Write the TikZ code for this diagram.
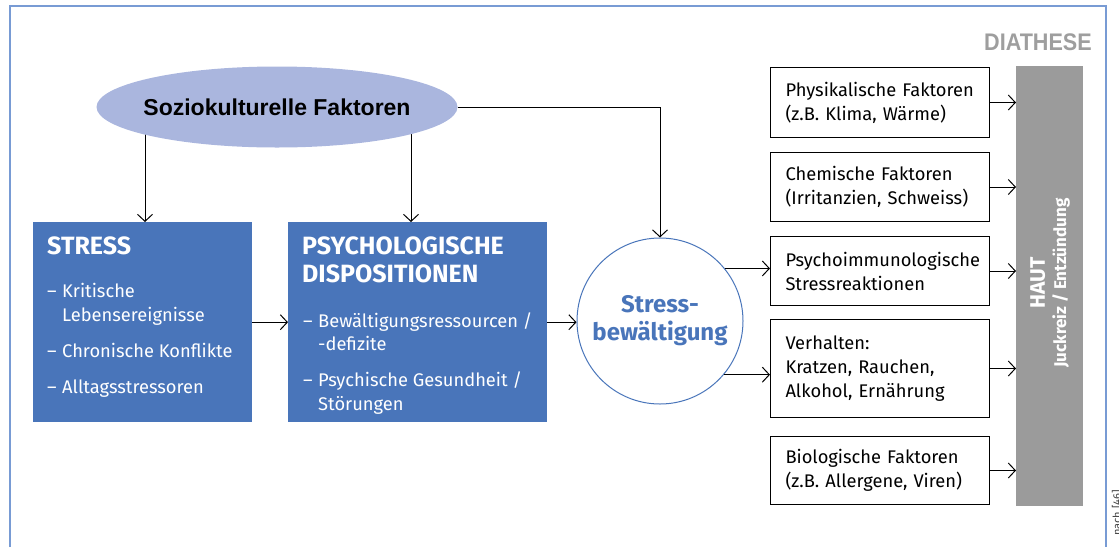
\documentclass[tikz,border=0pt]{standalone}
\usepackage{fontspec}
\setmainfont{Fira Sans}
\newfontfamily\narrowfont[FakeStretch=0.9]{Liberation Sans}
\newfontfamily\arialfont{Liberation Sans}
\usetikzlibrary{arrows.meta,shapes.geometric,backgrounds}
\definecolor{boxblue}{RGB}{73,117,186}
\definecolor{ellfill}{RGB}{170,182,222}
\definecolor{framecol}{RGB}{120,155,212}
\definecolor{hautgray}{RGB}{155,155,155}
\definecolor{diagray}{RGB}{158,158,158}
\begin{document}
\begin{tikzpicture}[x=1pt,y=-1pt,
  arr/.style={-{Straight Barb[length=7pt,width=15pt]}, line width=1pt},
  bluebox/.style={fill=boxblue, minimum width=#1, minimum height=200, inner sep=0, anchor=north west},
  whitebox/.style={draw=black, line width=1pt, fill=white, minimum width=219, text width=189,
     inner xsep=15, inner ysep=0, anchor=north west, align=left,
     font=\fontsize{18.3}{24}\selectfont},
  htitle/.style={anchor=base west, inner sep=0, text=white, font=\bfseries\fontsize{25}{30}\selectfont},
  item/.style={anchor=base west, inner sep=0, text=white, font=\fontsize{18.3}{24}\selectfont},
]
\useasboundingbox (0,0) rectangle (1119,547);
% frame
\draw[framecol, line width=1.5] (10,547) -- (10,6) -- (1106,6) -- (1106,547);
\node[anchor=base east, inner sep=0, text=diagray, font=\narrowfont\bfseries\fontsize{24}{26}\selectfont] (dia) at (1092,50) {DIATHESE};

% ellipse
\node[ellipse, fill=ellfill, minimum width=361, minimum height=81, inner sep=0] (ell) at (277,107) {};
\node[inner sep=0, font=\arialfont\bfseries\fontsize{23}{26}\selectfont] (elltext) at (ell.center) {Soziokulturelle Faktoren};

% blue boxes
\node[bluebox=219] (stress) at (33,222) {};
\node[bluebox=259] (psych) at (288,222) {};

\node[htitle] (t1) at (47,254) {STRESS};
\node[item] (s1d) at (47,297) {–};
\node[item] (s1) at (62,297) {Kritische};
\node[item] (s1b) at (62,321) {Lebensereignisse};
\node[item] (s2d) at (47,357) {–};
\node[item] (s2) at (62,357) {Chronische Konflikte};
\node[item] (s3d) at (47,393) {–};
\node[item] (s3) at (62,393) {Alltagsstressoren};

\node[htitle] (t2) at (302,254) {PSYCHOLOGISCHE};
\node[htitle] (t2b) at (302,282) {DISPOSITIONEN};
\node[item] (p1d) at (303,327) {–};
\node[item] (p1) at (318,327) {Bewältigungsressourcen /};
\node[item] (p1b) at (318,350) {-defizite};
\node[item] (p2d) at (303,386) {–};
\node[item] (p2) at (318,386) {Psychische Gesundheit /};
\node[item] (p2b) at (318,410) {Störungen};

% circle
\node[circle, draw=boxblue, line width=1pt, minimum size=166, inner sep=0, align=center,
  text=boxblue, font=\bfseries\fontsize{24}{28}\selectfont] (circ) at (660,321) {Stress-\\bewältigung};

% right boxes
\node[whitebox, minimum height=70] (f1) at (770,67) {Physikalische Faktoren\\(z.B. Klima, Wärme)};
\node[whitebox, minimum height=69] (f2) at (770,152) {Chemische Faktoren\\(Irritanzien, Schweiss)};
\node[whitebox, minimum height=69] (f3) at (770,236) {Psychoimmunologische\\Stressreaktionen};
\node[whitebox, minimum height=98] (f4) at (770,319) {Verhalten:\\Kratzen, Rauchen,\\Alkohol, Ernährung};
\node[whitebox, minimum height=68] (f5) at (770,436) {Biologische Faktoren\\(z.B. Allergene, Viren)};

% HAUT
\node[fill=hautgray, minimum width=67, minimum height=440, inner sep=0, anchor=north west] (haut) at (1016,66) {};
\node[rotate=90, text=white, align=center, inner sep=0] (hauttext) at (1050,283)
  {{\bfseries\fontsize{21}{24}\selectfont HAUT}\\[6pt]{\bfseries\fontsize{17}{18}\selectfont Juckreiz / Entzündung}};

% cut-off source text
\node[rotate=90, anchor=east, inner sep=0, text=black!75, font=\fontsize{11}{13}\selectfont] (src) at (1117,490) {nach [46]};

% connectors
\coordinate (a1) at (145,222);
\coordinate (a2) at (411,222);
\begin{scope}[on background layer]
\draw[arr] (ell.center -| a1) -- (a1);
\draw[arr] (ell.center -| a2) -- (a2);
\end{scope}
\draw[arr] (ell.east) -| (circ.north);
\draw[arr] (stress.east) -- (psych.west);
\draw[arr] (psych.east) -- (psych.east -| circ.west);
\draw[arr] (circ.39) -- (circ.39 -| f3.west);
\draw[arr] (circ.-40) -- (circ.-40 -| f4.west);
\foreach \f in {f1,f2,f3,f4,f5}
  \draw[arr] (\f.east) -- (\f.east -| haut.west);
\end{tikzpicture}
\end{document}
